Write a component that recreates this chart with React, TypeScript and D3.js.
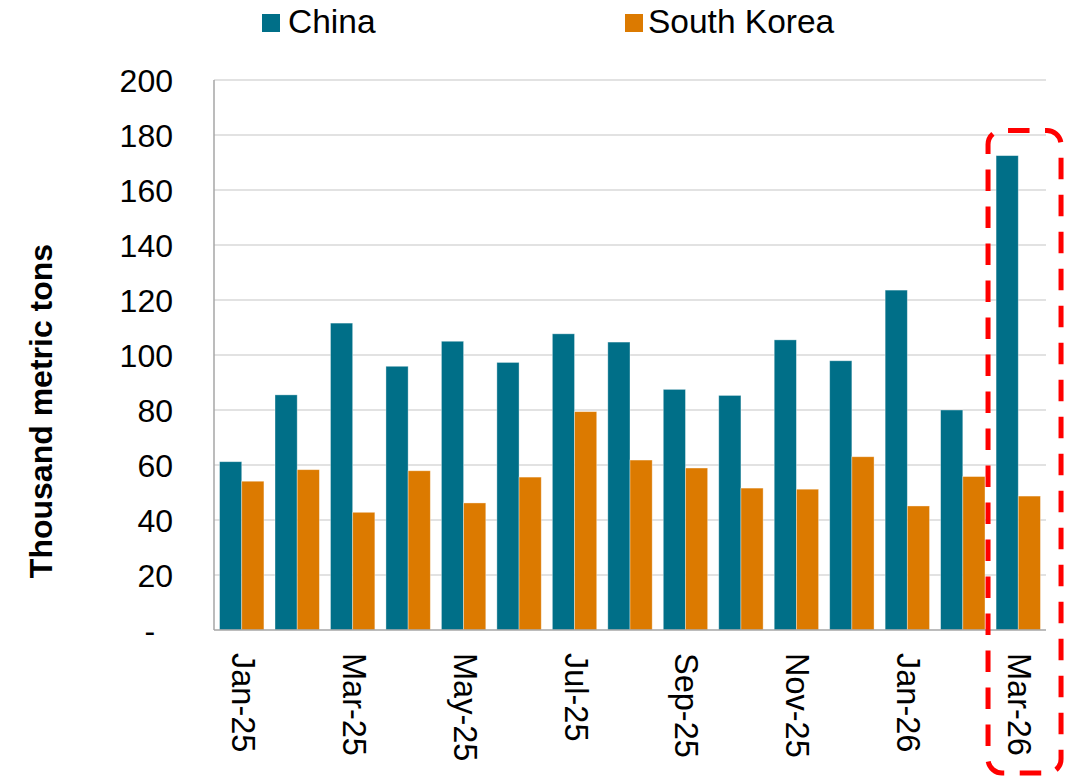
import React from "react";
import * as d3 from "d3";

// Monthly volumes, thousand metric tons
const months = [
  "Jan-25", "Feb-25", "Mar-25", "Apr-25", "May-25", "Jun-25", "Jul-25", "Aug-25",
  "Sep-25", "Oct-25", "Nov-25", "Dec-25", "Jan-26", "Feb-26", "Mar-26",
];
const china = [61.2, 85.5, 111.6, 95.9, 105.0, 97.3, 107.7, 104.7, 87.5, 85.3, 105.5, 97.9, 123.6, 80.0, 172.5];
const southKorea = [54.1, 58.3, 42.8, 57.9, 46.2, 55.6, 79.4, 61.8, 58.9, 51.6, 51.2, 63.0, 45.1, 55.8, 48.7];
const seriesNames = ["China", "South Korea"];
const yTicks = [0, 20, 40, 60, 80, 100, 120, 140, 160, 180, 200];
const highlightMonth = "Mar-26";

const W = 1073;
const H = 777;
const FONT = "'Liberation Sans', Arial, Helvetica, sans-serif";
const COLORS = ["#006F88", "#DC7A00"];

export default function App() {
  const left = 214;
  const right = 1046;
  const top = 80;
  const bottom = 630;

  const x0 = d3.scaleBand<string>().domain(months).range([left, right]).paddingInner(0.2).paddingOuter(0.1);
  const x1 = d3.scaleBand<string>().domain(seriesNames).range([0, x0.bandwidth()]);
  const y = d3.scaleLinear().domain([0, 200]).range([bottom, top]);
  const color = d3.scaleOrdinal<string, string>().domain(seriesNames).range(COLORS);

  const rows = months.map((m, i) => ({ month: m, values: [china[i], southKorea[i]] }));

  // Highlight frame around the last month
  const hx = x0(highlightMonth)! - x0.step() * x0.paddingInner() / 2;
  const frame = { x: hx - 2.5, y: 130.5, w: 73, h: 642.5 };

  const legendX = [262, 625];
  const legendGap = [26, 23];

  return (
    <svg width={W} height={H} style={{ position: "absolute", left: 0, top: 0, background: "#fff" }} fontFamily={FONT}>
      {/* gridlines */}
      {yTicks.filter((t) => t > 0).map((t) => (
        <line key={t} x1={left} x2={right} y1={y(t)} y2={y(t)} stroke="#D9D9D9" strokeWidth={1.5} />
      ))}
      {/* bars */}
      {rows.map((r) => (
        <g key={r.month} transform={`translate(${x0(r.month)},0)`}>
          {r.values.map((v, j) => (
            <rect
              key={j}
              x={x1(seriesNames[j])}
              y={y(v)}
              width={x1.bandwidth()}
              height={y(0) - y(v)}
              fill={color(seriesNames[j])}
              stroke="#ffffff"
              strokeOpacity={0.45}
              strokeWidth={0.8}
            />
          ))}
        </g>
      ))}
      {/* axes */}
      <line x1={left} x2={left} y1={top} y2={bottom} stroke="#A6A6A6" strokeWidth={1.5} />
      <line x1={left} x2={right} y1={bottom} y2={bottom} stroke="#A6A6A6" strokeWidth={1.5} />
      {/* y tick labels */}
      {yTicks.map((t) => (
        <text
          key={t}
          x={173}
          y={y(t)}
          dy="0.36em"
          textAnchor="end"
          fontSize={32}
          fill="#000"
          style={{ whiteSpace: "pre" }}
        >
          {t === 0 ? "-  " : d3.format("d")(t)}
        </text>
      ))}
      {/* y axis title */}
      <text
        transform={`translate(52,${411}) rotate(-90)`}
        textAnchor="middle"
        fontSize={32}
        fontWeight="bold"
        fill="#000"
      >
        Thousand metric tons
      </text>
      {/* x tick labels, every other month */}
      {months.filter((_, i) => i % 2 === 0).map((m) => (
        <text
          key={m}
          transform={`translate(${x0(m)! + x0.bandwidth() / 2},653) rotate(90)`}
          y={10}
          textAnchor="start"
          fontSize={32.5}
          fill="#000"
        >
          {m}
        </text>
      ))}
      {/* legend */}
      {seriesNames.map((s, i) => (
        <g key={s}>
          <rect x={legendX[i]} y={14} width={18} height={18} fill={color(s)} />
          <text x={legendX[i] + legendGap[i]} y={33} fontSize={33.5} fill="#000">
            {s}
          </text>
        </g>
      ))}
      {/* highlight frame */}
      <rect
        x={frame.x}
        y={frame.y}
        width={frame.w}
        height={frame.h}
        rx={14}
        ry={14}
        fill="none"
        stroke="#FF0000"
        strokeWidth={5}
        strokeDasharray="21.5 15.5"
        strokeDashoffset={-6}
      />
    </svg>
  );
}
